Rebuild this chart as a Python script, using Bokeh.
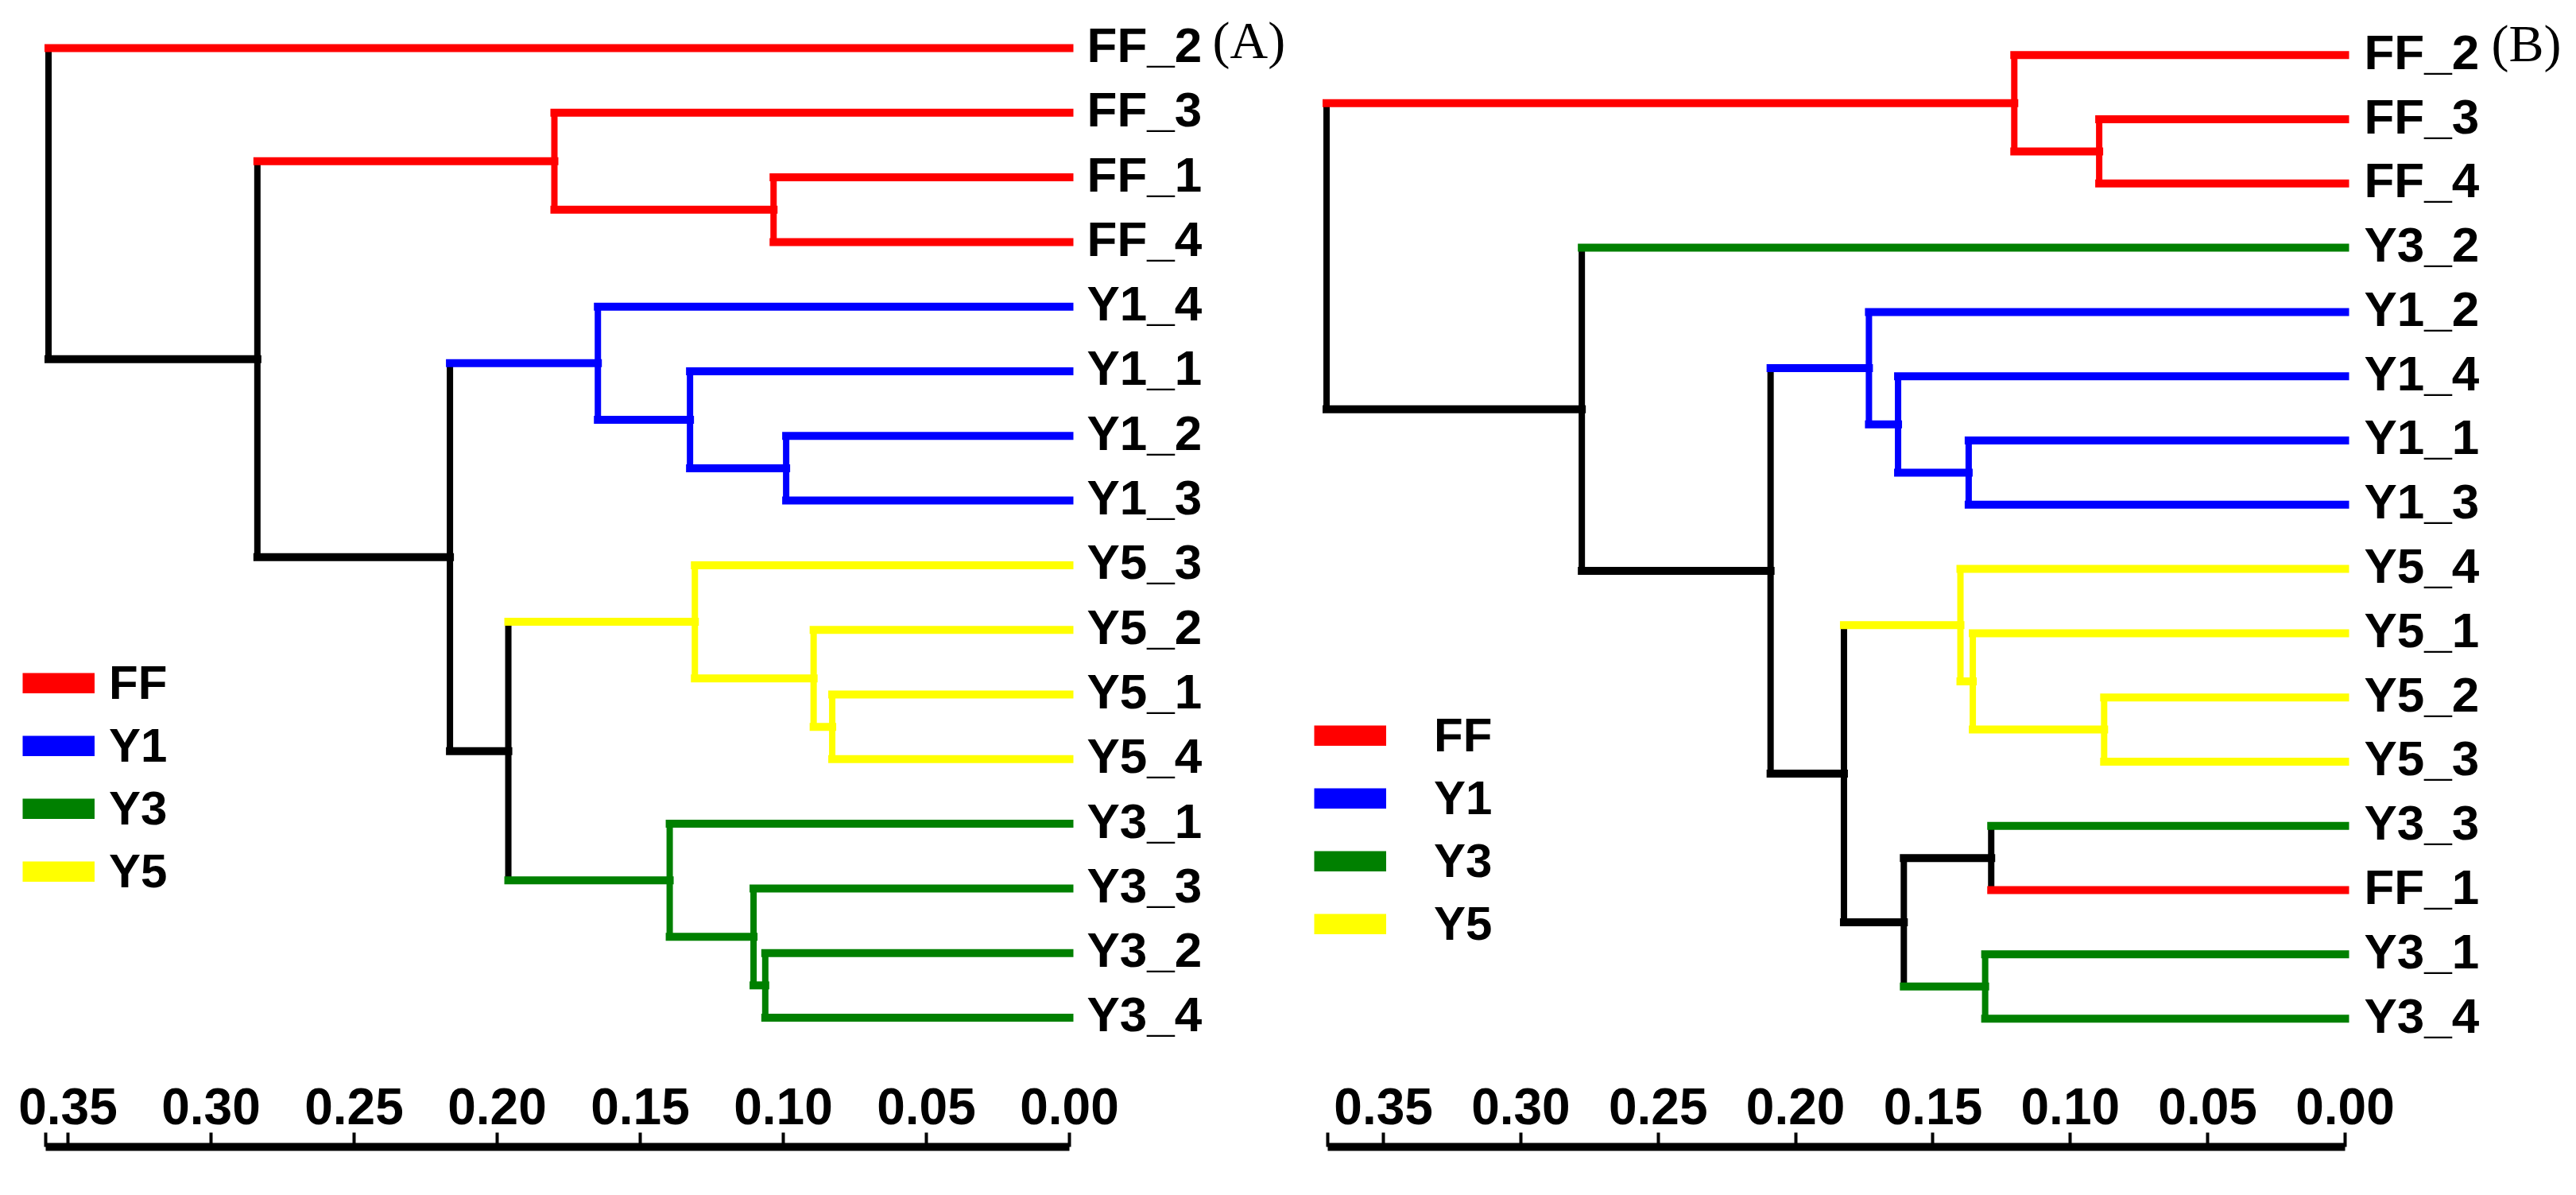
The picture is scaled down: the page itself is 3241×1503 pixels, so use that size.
from bokeh.plotting import figure
from bokeh.models import (Range1d, FixedTicker, Legend, LegendItem, ColumnDataSource)
from bokeh.layouts import row
from bokeh.embed import file_html
from bokeh.resources import INLINE
from bokeh.core.properties import value

# ---------------- data ----------------
group_names = ["FF", "Y1", "Y3", "Y5"]
group_colors = ["#FF0000", "#0000FF", "#008000", "#FFFF00"]

# Panel A: leaf order (top to bottom) and agglomeration steps
leaves_A = ["FF_2", "FF_3", "FF_1", "FF_4", "Y1_4", "Y1_1", "Y1_2", "Y1_3",
            "Y5_3", "Y5_2", "Y5_1", "Y5_4", "Y3_1", "Y3_3", "Y3_2", "Y3_4"]
merge_a_A = [2, 1, 6, 5, 4, 10, 9, 8, 14, 13, 12, 23, 20, 17, 0]
merge_b_A = [3, 16, 7, 18, 19, 11, 21, 22, 15, 24, 25, 26, 27, 28, 29]
heights_A = [0.1034, 0.1800, 0.0990, 0.1326, 0.1648, 0.0829, 0.0894, 0.1309,
             0.1063, 0.1104, 0.1397, 0.1961, 0.2165, 0.2838, 0.3568]

# Panel B
leaves_B = ["FF_2", "FF_3", "FF_4", "Y3_2", "Y1_2", "Y1_4", "Y1_1", "Y1_3",
            "Y5_4", "Y5_1", "Y5_2", "Y5_3", "Y3_3", "FF_1", "Y3_1", "Y3_4"]
merge_a_B = [1, 0, 6, 5, 4, 10, 9, 8, 12, 14, 24, 23, 20, 3, 17]
merge_b_B = [2, 16, 7, 18, 19, 11, 21, 22, 13, 15, 25, 26, 27, 28, 29]
heights_B = [0.0895, 0.1204, 0.1370, 0.1627, 0.1733, 0.0877, 0.1355, 0.1400,
             0.1288, 0.1310, 0.1606, 0.1824, 0.2091, 0.2778, 0.3707]

tick_values = [0.35, 0.30, 0.25, 0.20, 0.15, 0.10, 0.05, 0.00]
tick_labels = ["0.35", "0.30", "0.25", "0.20", "0.15", "0.10", "0.05", "0.00"]
scale_end_A = 0.3578
scale_end_B = 0.3703
panel_labels = ["(A)", "(B)"]

color_of = dict(zip(group_names, group_colors))
NAN = float("nan")


def dendro_segments(leaves, ma, mb, hs):
    n = len(leaves)
    xs = [0.0] * n
    ys = [float(i) for i in range(n)]
    cols = [color_of[l.split("_")[0]] for l in leaves]
    vx0, vy0, vx1, vy1, vc = [], [], [], [], []
    hx0, hy0, hx1, hy1, hc = [], [], [], [], []
    for a, b, h in zip(ma, mb, hs):
        ca, cb = cols[a], cols[b]
        node_col = ca if ca == cb else "#000000"
        vx0.append(h); vy0.append(ys[a]); vx1.append(h); vy1.append(ys[b]); vc.append(node_col)
        for c in (a, b):
            hx0.append(h); hy0.append(ys[c]); hx1.append(xs[c]); hy1.append(ys[c]); hc.append(cols[c])
        xs.append(h)
        ys.append((ys[a] + ys[b]) / 2.0)
        cols.append(node_col)
    v = ColumnDataSource(dict(x0=vx0, y0=vy0, x1=vx1, y1=vy1, c=vc))
    hsrc = ColumnDataSource(dict(x0=hx0, y0=hy0, x1=hx1, y1=hy1, c=hc))
    return v, hsrc


def make_panel(leaves, ma, mb, hs, width, height, xr, yr, bottom_border,
               scale_end, label_dx, letter, letter_dx, letter_dy,
               leg_loc, leg_standoff):
    p = figure(width=width, height=height, x_range=Range1d(*xr), y_range=Range1d(*yr),
               output_backend="svg", toolbar_location=None,
               y_axis_location=None, x_axis_location="below",
               min_border_left=0, min_border_right=0, min_border_top=0,
               min_border_bottom=bottom_border)
    p.grid.visible = False
    p.outline_line_color = None
    p.background_fill_color = "white"
    p.border_fill_color = "white"

    vsrc, hsrc = dendro_segments(leaves, ma, mb, hs)
    p.segment(x0="x0", y0="y0", x1="x1", y1="y1", source=vsrc, line_color="c",
              line_width=8, line_cap="square")
    p.segment(x0="x0", y0="y0", x1="x1", y1="y1", source=hsrc, line_color="c",
              line_width=10, line_cap="square")

    p.text(x=[0.0] * len(leaves), y=list(range(len(leaves))), text=leaves,
           x_offset=label_dx, y_offset=-4, text_align="left", text_baseline="middle",
           text_font=value("Liberation Sans"), text_font_style="bold",
           text_font_size="62px", text_color="black")
    p.text(x=[0.0], y=[0.0], text=[letter], x_offset=letter_dx, y_offset=letter_dy,
           text_align="left", text_baseline="middle",
           text_font=value("Liberation Serif"), text_font_size="66px",
           text_color="black")

    ax = p.xaxis[0]
    ax.ticker = FixedTicker(ticks=tick_values + [scale_end])
    overrides = dict(zip(tick_values, tick_labels))
    overrides[scale_end] = ""
    ax.major_label_overrides = overrides
    ax.bounds = (0.0, scale_end)
    ax.axis_line_width = 10
    ax.axis_line_color = "black"
    ax.major_tick_in = 18
    ax.major_tick_out = 0
    ax.major_tick_line_width = 4
    ax.major_tick_line_color = "black"
    ax.minor_tick_line_color = None
    ax.major_label_standoff = -74
    ax.major_label_text_font = "Liberation Sans"
    ax.major_label_text_font_style = "bold"
    ax.major_label_text_font_size = "64px"
    ax.major_label_text_color = "black"

    items = []
    for g, c in zip(group_names, group_colors):
        r = p.line(x=[NAN], y=[NAN], line_color=c, line_width=26)
        items.append(LegendItem(label=g, renderers=[r]))
    leg = Legend(items=items, location=leg_loc, glyph_width=91, glyph_height=26,
                 label_standoff=leg_standoff, spacing=10, padding=0, margin=0,
                 border_line_color=None, background_fill_alpha=0,
                 label_text_font="Liberation Sans", label_text_font_style="bold",
                 label_text_font_size="60px", label_text_color="black")
    p.add_layout(leg)
    return p


pA = make_panel(leaves_A, merge_a_A, merge_b_A, heights_A,
                width=1632, height=1487, xr=(0.37361, -0.07972), yr=(16.999, -0.738),
                bottom_border=45, scale_end=scale_end_A, label_dx=22,
                letter=panel_labels[0], letter_dx=180, letter_dy=-10,
                leg_loc=(28, 312), leg_standoff=18)
pB = make_panel(leaves_B, merge_a_B, merge_b_B, heights_B,
                width=1593, height=1487, xr=(0.38126, -0.07955), yr=(16.997, -0.8505),
                bottom_border=39, scale_end=scale_end_B, label_dx=24,
                letter=panel_labels[1], letter_dx=184, letter_dy=-15,
                leg_loc=(21, 246), leg_standoff=60)

layout = row(pA, pB, spacing=0)
open("out.html", "w").write(file_html(layout, INLINE))
